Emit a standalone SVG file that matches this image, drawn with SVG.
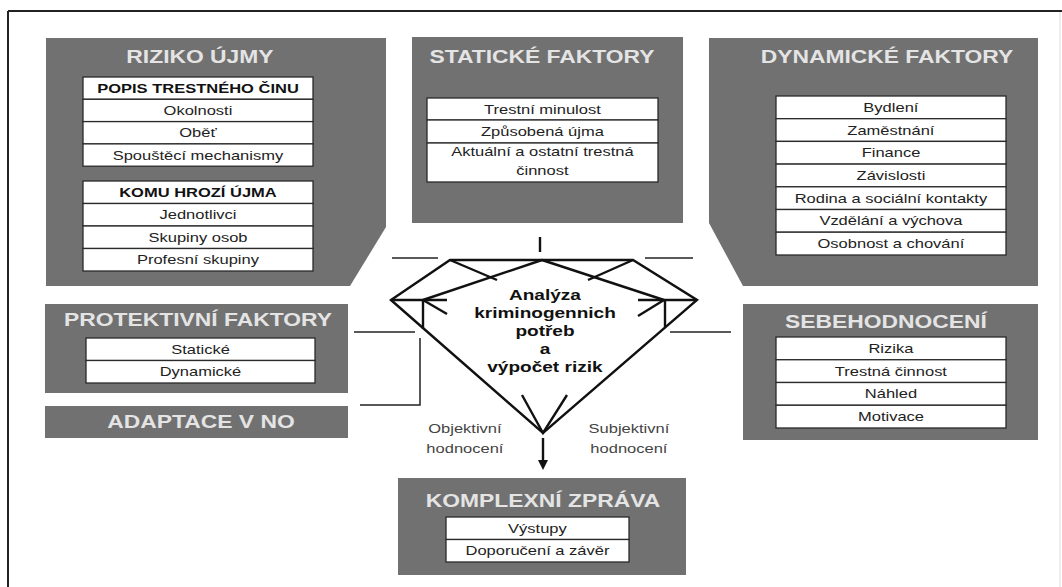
<svg xmlns="http://www.w3.org/2000/svg" width="1062" height="587" viewBox="0 0 1062 587">
<defs>
<style>
text{font-family:"Liberation Sans",Arial,sans-serif;text-anchor:middle;transform-box:fill-box;transform-origin:center;transform:scaleX(1.27)}
.box{fill:#717171}
.title{font-weight:bold;font-size:18px;fill:#e4e4e4}
.cell{fill:#fff;stroke:#2a2a2a;stroke-width:1.3}
.t{font-size:13px;fill:#222}
.th{font-size:13px;font-weight:bold;fill:#111}
.lbl{font-size:13px;fill:#444}
.dt{font-size:15px;font-weight:bold;fill:#111}
.ln{stroke:#111;stroke-width:2.4;fill:none;stroke-linejoin:miter}
.thin{stroke:#222;stroke-width:1.5;fill:none}
</style>
<marker id="ah" viewBox="0 0 10 10" refX="2" refY="5" markerWidth="10" markerHeight="10" markerUnits="userSpaceOnUse" orient="auto"><path d="M0,0 L10,5 L0,10 Z" fill="#111"/></marker>
</defs>
<rect width="1062" height="587" fill="#fff"/>
<path d="M8,11 H1062 M8,11 V587" stroke="#222" stroke-width="2" fill="none"/>
<path d="M1060,12 V587" stroke="#ddd" stroke-width="1" fill="none"/>

<g id="riziko-ujmy">
<polygon class="box" points="46,38 386,38 386,227 350,286 46,286"/>
<text class="title" x="200" y="63">RIZIKO ÚJMY</text>
<rect class="cell" x="83" y="77" width="230" height="22.3"/>
<rect class="cell" x="83" y="99.3" width="230" height="22.3"/>
<rect class="cell" x="83" y="121.6" width="230" height="22.3"/>
<rect class="cell" x="83" y="143.9" width="230" height="22.3"/>
<text class="th" x="198" y="92.8">POPIS TRESTNÉHO ČINU</text>
<text class="t" x="198" y="115">Okolnosti</text>
<text class="t" x="198" y="137.3">Oběť</text>
<text class="t" x="198" y="159.6">Spouštěcí mechanismy</text>
<rect class="cell" x="83" y="181" width="230" height="22.5"/>
<rect class="cell" x="83" y="203.5" width="230" height="22.5"/>
<rect class="cell" x="83" y="226" width="230" height="22.5"/>
<rect class="cell" x="83" y="248.5" width="230" height="22.5"/>
<text class="th" x="198" y="196.9">KOMU HROZÍ ÚJMA</text>
<text class="t" x="198" y="219.4">Jednotlivci</text>
<text class="t" x="198" y="241.9">Skupiny osob</text>
<text class="t" x="198" y="264.4">Profesní skupiny</text>
</g>

<g id="staticke-faktory">
<rect class="box" x="412" y="37" width="271" height="186"/>
<text class="title" x="542" y="63">STATICKÉ FAKTORY</text>
<rect class="cell" x="427" y="98" width="231" height="22"/>
<rect class="cell" x="427" y="120" width="231" height="23"/>
<rect class="cell" x="427" y="143" width="231" height="39"/>
<text class="t" x="542.5" y="113.6">Trestní minulost</text>
<text class="t" x="542.5" y="136">Způsobená újma</text>
<text class="t" x="542.5" y="156">Aktuální a ostatní trestná</text>
<text class="t" x="542.5" y="175">činnost</text>
</g>

<g id="dynamicke-faktory">
<polygon class="box" points="709,38 1038,38 1038,286 743,286 709,223"/>
<text class="title" x="887" y="63">DYNAMICKÉ FAKTORY</text>
<rect class="cell" x="776" y="96" width="230" height="22.7"/>
<rect class="cell" x="776" y="118.7" width="230" height="22.7"/>
<rect class="cell" x="776" y="141.4" width="230" height="22.7"/>
<rect class="cell" x="776" y="164.1" width="230" height="22.7"/>
<rect class="cell" x="776" y="186.8" width="230" height="22.7"/>
<rect class="cell" x="776" y="209.5" width="230" height="22.7"/>
<rect class="cell" x="776" y="232.2" width="230" height="22.8"/>
<text class="t" x="891" y="111.9">Bydlení</text>
<text class="t" x="891" y="134.6">Zaměstnání</text>
<text class="t" x="891" y="157.3">Finance</text>
<text class="t" x="891" y="180">Závislosti</text>
<text class="t" x="891" y="202.7">Rodina a sociální kontakty</text>
<text class="t" x="891" y="225.4">Vzdělání a výchova</text>
<text class="t" x="891" y="248.1">Osobnost a chování</text>
</g>

<g id="protektivni-faktory">
<rect class="box" x="45" y="304" width="303" height="89"/>
<text class="title" x="198" y="326">PROTEKTIVNÍ FAKTORY</text>
<rect class="cell" x="86" y="338" width="229" height="22.5"/>
<rect class="cell" x="86" y="360.5" width="229" height="22.5"/>
<text class="t" x="200.5" y="353.9">Statické</text>
<text class="t" x="200.5" y="376.4">Dynamické</text>
</g>

<g id="adaptace-v-no">
<rect class="box" x="45" y="406" width="303" height="32"/>
<text class="title" x="201" y="428">ADAPTACE V NO</text>
</g>

<g id="sebehodnoceni">
<rect class="box" x="743" y="304" width="295" height="136"/>
<text class="title" x="886" y="328">SEBEHODNOCENÍ</text>
<rect class="cell" x="776" y="337" width="230" height="22.75"/>
<rect class="cell" x="776" y="359.75" width="230" height="22.75"/>
<rect class="cell" x="776" y="382.5" width="230" height="22.75"/>
<rect class="cell" x="776" y="405.25" width="230" height="22.75"/>
<text class="t" x="891" y="353">Rizika</text>
<text class="t" x="891" y="375.7">Trestná činnost</text>
<text class="t" x="891" y="398.5">Náhled</text>
<text class="t" x="891" y="421.2">Motivace</text>
</g>

<g id="komplexni-zprava">
<rect class="box" x="398" y="478" width="288" height="97"/>
<text class="title" x="543" y="507">KOMPLEXNÍ ZPRÁVA</text>
<rect class="cell" x="446" y="517" width="183" height="22.5"/>
<rect class="cell" x="446" y="539.5" width="183" height="22.5"/>
<text class="t" x="537.5" y="532.9">Výstupy</text>
<text class="t" x="537.5" y="555.4">Doporučení a závěr</text>
</g>

<g id="analyza">
<text class="dt" x="545" y="300">Analýza</text>
<text class="dt" x="545" y="318">kriminogennich</text>
<text class="dt" x="545" y="336">potřeb</text>
<text class="dt" x="545" y="354">a</text>
<text class="dt" x="545" y="372">výpočet rizik</text>
</g>

<g id="connectors">
<path class="ln" d="M391,300 L450,260 L633,260 L697,300 L543,433 Z"/>
<path class="ln" d="M450,260 L497,280"/>
<path class="ln" d="M633,260 L588,280"/>
<path class="ln" d="M542,260 L423,300"/>
<path class="ln" d="M542,260 L664,300"/>
<path class="ln" d="M391,300 L447,300"/>
<path class="ln" d="M638,300 L697,300"/>
<path class="ln" d="M423,300 L447,314"/>
<path class="ln" d="M664,300 L638,316"/>
<path class="ln" d="M423,300 L423,329"/>
<path class="ln" d="M665,300 L665,327"/>
<path class="ln" d="M522,395 L543,433 L567,395"/>
<path class="ln" d="M540,237 V252"/>
<path class="thin" d="M392,258 H438"/>
<path class="thin" d="M645,258 H693"/>
<path class="thin" d="M354,332 H415"/>
<path class="thin" d="M670,332 H731"/>
<path class="thin" d="M420,338 V405 H360"/>
<path class="ln" d="M543,438 V462" marker-end="url(#ah)"/>
<text class="lbl" x="465" y="433">Objektivní</text>
<text class="lbl" x="465" y="453">hodnocení</text>
<text class="lbl" x="629" y="433">Subjektivní</text>
<text class="lbl" x="629" y="453">hodnocení</text>
</g>
</svg>
